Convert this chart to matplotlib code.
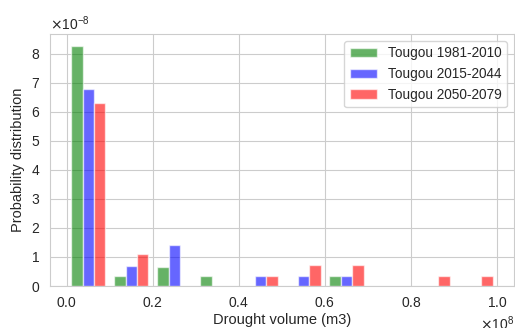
import numpy as np
import matplotlib
matplotlib.use("Agg")
import matplotlib.pyplot as plt
import seaborn as sns

# bin edges (m3) and probability densities (x 1e-8)
bin_edges = [0.0, 0.1e8, 0.2e8, 0.3e8, 0.4e8, 0.5e8, 0.6e8, 0.7e8, 0.8e8, 0.9e8, 1.0e8]
dens_1981 = [8.26, 0.33, 0.67, 0.33, 0.0, 0.0, 0.33, 0.0, 0.0, 0.0]
dens_2015 = [6.79, 0.70, 1.41, 0.0, 0.35, 0.35, 0.35, 0.0, 0.0, 0.0]
dens_2050 = [6.29, 1.10, 0.0, 0.0, 0.35, 0.73, 0.73, 0.0, 0.35, 0.35]
labels = ["Tougou 1981-2010", "Tougou 2015-2044", "Tougou 2050-2079"]
colors = ["green", "blue", "red"]

sns.set_style("whitegrid")
plt.rcParams["font.family"] = ["Liberation Sans", "DejaVu Sans"]

edges = np.array(bin_edges)
centers = (edges[:-1] + edges[1:]) / 2
weights = [np.array(d) * 1e-8 for d in (dens_1981, dens_2015, dens_2050)]

fig = plt.figure(figsize=(5.15, 3.28), dpi=100)
ax = fig.add_axes([0.097, 0.128, 0.9005, 0.768])
ax.hist([centers] * 3, bins=edges, weights=weights, color=colors,
        alpha=0.6, label=labels)

ax.set_xticks([0, 0.2e8, 0.4e8, 0.6e8, 0.8e8, 1.0e8])
ax.set_yticks(np.arange(0, 9) * 1e-8)
ax.ticklabel_format(style="sci", axis="both", scilimits=(0, 0), useMathText=True)
ax.tick_params(labelsize=10)
ax.xaxis.get_offset_text().set_fontsize(10)
ax.yaxis.get_offset_text().set_fontsize(10)
ax.set_xlabel("Drought volume (m3)", fontsize=10.5, labelpad=2)
ax.set_ylabel("Probability distribution", fontsize=10.5, labelpad=4)
ax.legend(loc="upper right", fontsize=9.8, frameon=True)

fig.savefig("out.png", dpi=100)
